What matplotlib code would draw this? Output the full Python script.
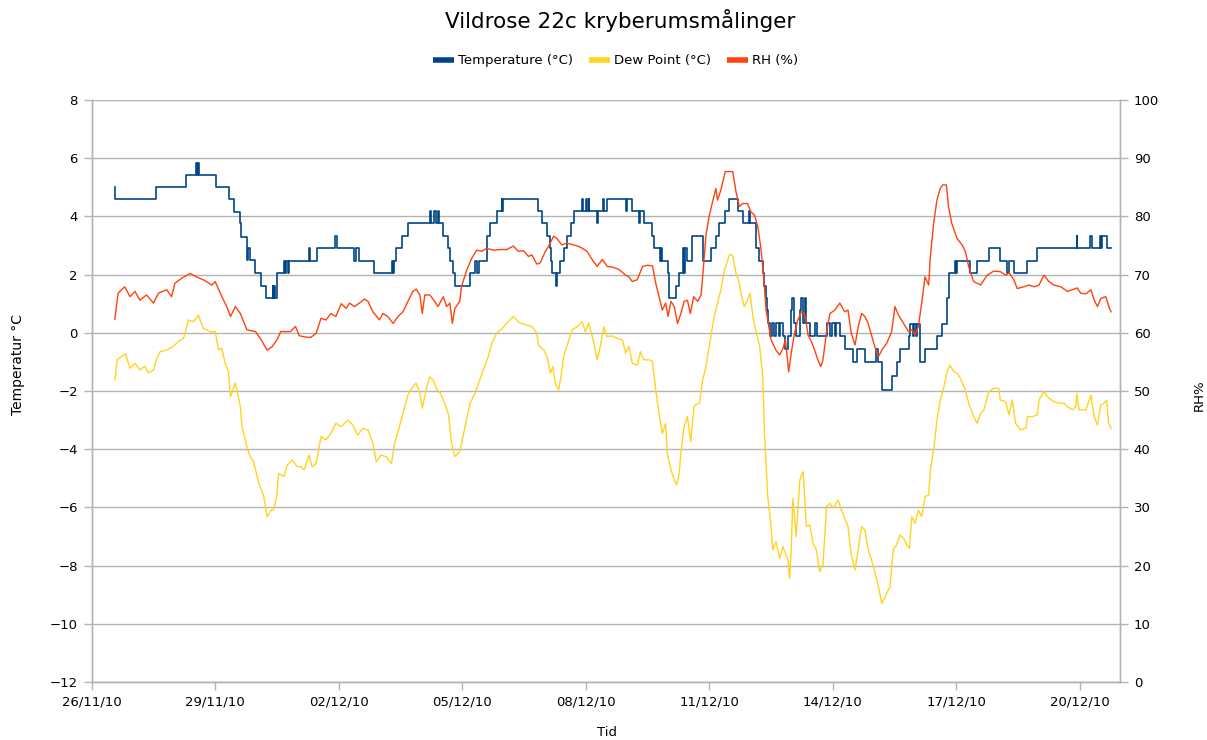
import numpy as np
import pandas as pd
import matplotlib
matplotlib.use("Agg")
import matplotlib.pyplot as plt
import matplotlib.dates as mdates
from matplotlib.lines import Line2D

# Measurements, as days since 26/11/10 00:00
start = pd.Timestamp("2010-11-26")

temp_days = [0.56, 0.57, 1.56, 2.28, 2.54, 2.56, 2.58, 2.61, 3.02, 3.33, 3.45, 3.59, 3.63, 3.76, 3.78, 3.80,
             3.85, 3.97, 4.10, 4.24, 4.40, 4.41, 4.43, 4.44, 4.50, 4.67, 4.70, 4.72, 4.76, 4.78, 5.28, 5.30,
             5.47, 5.91, 5.95, 6.38, 6.41, 6.49, 6.85, 7.30, 7.32, 7.34, 7.40, 7.54, 7.68, 8.21, 8.25, 8.31,
             8.37, 8.41, 8.44, 8.54, 8.66, 8.71, 8.78, 8.82, 9.19, 9.31, 9.35, 9.41, 9.59, 9.67, 9.84, 9.96,
             9.97, 9.99, 10.85, 10.93, 11.06, 11.14, 11.16, 11.19, 11.28, 11.31, 11.38, 11.46, 11.54, 11.63,
             11.71, 11.91, 11.93, 12.01, 12.03, 12.07, 12.09, 12.28, 12.30, 12.42, 12.45, 12.52, 12.97, 13.01,
             13.13, 13.29, 13.32, 13.41, 13.62, 13.66, 13.80, 13.82, 13.86, 13.99, 14.02, 14.19, 14.27, 14.35,
             14.39, 14.41, 14.47, 14.59, 14.84, 15.04, 15.16, 15.24, 15.37, 15.49, 15.69, 15.81, 15.97, 16.00,
             16.14, 16.22, 16.30, 16.33, 16.37, 16.40, 16.43, 16.48, 16.53, 16.58, 16.62, 16.69, 16.72, 16.79,
             16.85, 16.91, 16.99, 17.02, 17.07, 17.11, 17.20, 17.22, 17.28, 17.32, 17.36, 17.44, 17.58, 17.62,
             17.85, 17.93, 17.97, 18.05, 18.09, 18.17, 18.29, 18.50, 18.58, 18.78, 19.06, 19.11, 19.19, 19.43,
             19.55, 19.63, 19.84, 19.88, 19.95, 19.97, 20.02, 20.04, 20.12, 20.24, 20.53, 20.65, 20.77, 20.83,
             20.97, 20.99, 21.01, 21.34, 21.50, 21.79, 22.06, 22.23, 22.27, 22.40, 22.72, 22.97, 23.92, 23.93,
             24.26, 24.29, 24.50, 24.52, 24.53, 24.67, 24.76]
temp_vals = [5.00, 4.60, 5.00, 5.42, 5.82, 5.42, 5.82, 5.42, 5.00, 4.60, 4.16, 3.78, 3.30, 2.90, 2.50, 2.90,
             2.50, 2.04, 1.61, 1.21, 1.61, 1.21, 1.61, 1.21, 2.04, 2.47, 2.04, 2.47, 2.04, 2.47, 2.91, 2.48,
             2.91, 3.33, 2.91, 2.48, 2.91, 2.48, 2.04, 2.48, 2.04, 2.48, 2.91, 3.33, 3.78, 4.19, 3.78, 4.19,
             3.78, 4.19, 3.78, 3.33, 2.91, 2.48, 2.04, 1.61, 2.04, 2.48, 2.04, 2.48, 3.33, 3.78, 4.19, 4.59,
             4.19, 4.59, 4.19, 3.78, 3.33, 2.91, 2.48, 2.04, 1.61, 2.04, 2.48, 2.91, 3.33, 3.78,
             4.19, 4.59, 4.19, 4.59, 4.19, 4.59, 4.19, 3.78, 4.19, 4.59, 4.19, 4.59, 4.19, 4.59,
             4.19, 3.78, 4.19, 3.78, 3.33, 2.91, 2.48, 2.91, 2.48, 2.04, 1.21, 1.61, 2.04, 2.91,
             2.04, 2.91, 2.48, 3.33, 2.48, 2.91, 3.33, 3.78, 4.19, 4.59, 4.19, 3.78, 4.19, 3.78,
             2.91, 2.48, 2.04, 1.61, 1.21, 0.78, 0.34, -0.10, 0.34, -0.10, 0.34, -0.10, 0.34, -0.10,
             -0.57, -0.10, 0.78, 1.21, 0.34, -0.10, 0.78, 1.21, 0.34, 1.21, 0.34, -0.10, 0.34, -0.10,
             0.34, -0.10, 0.34, -0.10, 0.34, -0.10, -0.57, -1.00, -0.57, -1.00, -0.57, -1.00, -1.97, -1.49,
             -1.00, -0.57, -0.10, 0.30, -0.10, 0.30, -0.10, 0.30, -1.00, -0.57, -0.10, 0.30, 1.21, 2.04,
             2.47, 2.04, 2.47, 2.04, 2.47, 2.91, 2.47, 2.04, 2.47, 2.04, 2.47, 2.91, 3.33, 2.91,
             3.33, 2.91, 3.33, 2.91, 3.33, 2.91, 2.91]

dew_days = [0.56, 0.62, 0.72, 0.82, 0.93, 1.05, 1.17, 1.29, 1.37, 1.50, 1.58, 1.66, 1.82, 1.98, 2.10, 2.23,
            2.35, 2.47, 2.59, 2.71, 2.88, 3.00, 3.08, 3.16, 3.24, 3.32, 3.37, 3.49, 3.61, 3.65, 3.77, 3.85,
            3.93, 4.06, 4.18, 4.26, 4.36, 4.42, 4.49, 4.54, 4.67, 4.75, 4.87, 4.99, 5.08, 5.16, 5.28, 5.35,
            5.45, 5.57, 5.69, 5.81, 5.93, 6.06, 6.22, 6.34, 6.46, 6.59, 6.71, 6.83, 6.91, 7.03, 7.15, 7.28,
            7.36, 7.44, 7.56, 7.68, 7.80, 7.88, 7.97, 8.03, 8.13, 8.21, 8.29, 8.37, 8.47, 8.54, 8.66, 8.74,
            8.82, 8.94, 9.06, 9.19, 9.31, 9.41, 9.51, 9.63, 9.72, 9.84, 9.96, 10.08, 10.24, 10.40, 10.57,
            10.69, 10.81, 10.85, 10.98, 11.06, 11.14, 11.20, 11.26, 11.34, 11.40, 11.46, 11.54, 11.67, 11.79,
            11.91, 11.99, 12.07, 12.19, 12.28, 12.36, 12.44, 12.52, 12.64, 12.76, 12.89, 12.97, 13.05, 13.13,
            13.25, 13.33, 13.41, 13.54, 13.62, 13.70, 13.78, 13.86, 13.94, 13.98, 14.07, 14.15, 14.21, 14.27,
            14.31, 14.39, 14.47, 14.55, 14.63, 14.67, 14.76, 14.84, 14.92, 15.04, 15.12, 15.20, 15.28, 15.37,
            15.45, 15.50, 15.57, 15.65, 15.71, 15.77, 15.85, 15.93, 15.99, 16.06, 16.14, 16.22, 16.30, 16.34,
            16.42, 16.50, 16.54, 16.62, 16.71, 16.79, 16.91, 16.95, 16.99, 17.03, 17.11, 17.20, 17.28, 17.36,
            17.44, 17.52, 17.60, 17.68, 17.76, 17.85, 17.93, 18.01, 18.13, 18.21, 18.29, 18.37, 18.45, 18.54,
            18.62, 18.70, 18.78, 18.86, 18.94, 19.02, 19.11, 19.19, 19.27, 19.39, 19.47, 19.55, 19.63, 19.72,
            19.80, 19.86, 19.92, 20.00, 20.08, 20.16, 20.24, 20.33, 20.37, 20.45, 20.53, 20.61, 20.69, 20.78,
            20.84, 20.94, 21.02, 21.10, 21.22, 21.30, 21.42, 21.51, 21.59, 21.67, 21.79, 21.91, 22.03, 22.07,
            22.20, 22.28, 22.36, 22.44, 22.56, 22.69, 22.73, 22.85, 22.97, 23.01, 23.13, 23.25, 23.37, 23.50,
            23.62, 23.70, 23.82, 23.90, 23.93, 23.98, 24.15, 24.27, 24.35, 24.43, 24.51, 24.59, 24.65, 24.70,
            24.76]
dew_vals = [-1.62, -0.93, -0.82, -0.73, -1.22, -1.05, -1.28, -1.14, -1.37, -1.28, -0.88, -0.65, -0.59, -0.47, -0.30, -0.19,
            0.44, 0.38, 0.61, 0.15, 0.04, 0.04, -0.59, -0.53, -1.05, -1.33, -2.19, -1.73, -2.54, -3.22, -3.91, -4.26,
            -4.43, -5.17, -5.63, -6.32, -6.09, -6.09, -5.63, -4.83, -4.94, -4.54, -4.37, -4.60, -4.60, -4.71, -4.20, -4.60,
            -4.49, -3.57, -3.68, -3.45, -3.11, -3.22, -3.00, -3.17, -3.51, -3.28, -3.34, -3.79, -4.43, -4.20, -4.26, -4.49,
            -3.79, -3.40, -2.77, -2.14, -1.85, -1.73, -2.08, -2.59, -1.91, -1.51, -1.62, -1.91, -2.08, -2.31, -2.77, -3.79,
            -4.25, -4.08, -3.28, -2.42, -2.08, -1.68, -1.28, -0.82, -0.36, 0.00, 0.12, 0.33, 0.56, 0.33, 0.27,
            0.21, 0.00, -0.42, -0.59, -0.82, -1.39, -1.16, -1.74, -1.97, -1.51, -0.82, -0.47, 0.10, 0.21,
            0.38, 0.04, 0.33, -0.30, -0.93, -0.42, 0.21, -0.13, -0.11, -0.19, -0.25, -0.70, -0.47, -1.05,
            -1.11, -0.65, -0.93, -0.93, -0.99, -1.97, -2.77, -3.46, -3.11, -4.14, -4.71, -5.06, -5.23, -4.83,
            -4.14, -3.22, -2.88, -3.74, -2.54, -2.48, -2.42, -1.62, -1.15, -0.10, 0.56, 1.01, 1.47, 2.16,
            2.50, 2.70, 2.65, 2.04, 1.82, 1.36, 0.90, 1.13, 1.36, 0.56, 0.00, -0.42, -1.51, -3.45,
            -5.63, -6.66, -7.46, -7.18, -7.75, -7.35, -7.81, -8.44, -7.46, -5.69, -7.00, -5.06, -4.77, -6.66,
            -6.60, -7.23, -7.46, -8.21, -7.98, -5.97, -5.86, -6.03, -5.75, -6.09, -6.38, -6.66, -7.64, -8.15,
            -7.40, -6.66, -6.78, -7.46, -7.81, -8.21, -8.72, -9.30, -9.07, -8.72, -7.45, -7.29, -6.95, -7.06,
            -7.29, -7.41, -6.32, -6.55, -6.09, -6.32, -5.63, -5.57, -4.71, -4.03, -3.00, -2.31, -1.91, -1.33,
            -1.11, -1.33, -1.39, -1.56, -1.97, -2.42, -2.88, -3.11, -2.77, -2.65, -2.02, -1.91, -1.91, -2.31,
            -2.37, -2.82, -2.31, -3.11, -3.34, -3.28, -2.88, -2.88, -2.82, -2.31, -2.02, -2.25, -2.37, -2.42,
            -2.42, -2.54, -2.65, -2.54, -2.08, -2.65, -2.65, -2.14, -2.88, -3.17, -2.48, -2.42, -2.31, -3.11,
            -3.28]

rh_days = [0.56, 0.64, 0.80, 0.93, 1.05, 1.17, 1.33, 1.50, 1.62, 1.82, 1.94, 2.02, 2.19, 2.39, 2.55, 2.71,
           2.92, 3.00, 3.16, 3.28, 3.37, 3.49, 3.61, 3.69, 3.77, 3.98, 4.14, 4.26, 4.38, 4.50, 4.59, 4.83,
           4.95, 5.04, 5.16, 5.32, 5.45, 5.57, 5.69, 5.81, 5.93, 6.06, 6.18, 6.26, 6.38, 6.50, 6.63, 6.71,
           6.83, 6.99, 7.07, 7.19, 7.32, 7.44, 7.56, 7.68, 7.80, 7.88, 7.97, 8.03, 8.09, 8.21, 8.33, 8.41,
           8.54, 8.62, 8.70, 8.76, 8.82, 8.94, 8.98, 9.11, 9.23, 9.35, 9.47, 9.59, 9.76, 9.92, 10.08, 10.24,
           10.36, 10.49, 10.61, 10.69, 10.81, 10.89, 11.02, 11.10, 11.22, 11.30, 11.42, 11.54, 11.71, 11.87,
           12.03, 12.19, 12.28, 12.40, 12.52, 12.64, 12.80, 12.97, 13.05, 13.13, 13.25, 13.38, 13.50, 13.62,
           13.70, 13.78, 13.86, 13.94, 14.00, 14.07, 14.15, 14.23, 14.31, 14.39, 14.47, 14.54, 14.62, 14.72,
           14.80, 14.84, 14.92, 15.00, 15.08, 15.16, 15.20, 15.28, 15.39, 15.57, 15.65, 15.73, 15.81, 15.93,
           16.01, 16.10, 16.18, 16.26, 16.32, 16.38, 16.50, 16.62, 16.71, 16.79, 16.85, 16.93, 16.99, 17.07,
           17.15, 17.24, 17.32, 17.40, 17.48, 17.56, 17.64, 17.71, 17.76, 17.85, 17.93, 18.05, 18.17, 18.29,
           18.37, 18.45, 18.54, 18.62, 18.70, 18.78, 18.86, 18.94, 19.02, 19.11, 19.19, 19.31, 19.43, 19.51,
           19.59, 19.72, 19.84, 19.92, 20.00, 20.08, 20.16, 20.24, 20.33, 20.37, 20.45, 20.53, 20.61, 20.67,
           20.76, 20.81, 20.89, 21.02, 21.14, 21.22, 21.30, 21.42, 21.59, 21.75, 21.91, 22.07, 22.20, 22.28,
           22.40, 22.48, 22.64, 22.76, 22.89, 23.01, 23.13, 23.25, 23.37, 23.54, 23.70, 23.82, 23.94, 24.02,
           24.15, 24.27, 24.35, 24.43, 24.51, 24.63, 24.72, 24.76]
rh_vals = [62.3, 66.8, 67.9, 66.2, 67.1, 65.6, 66.5, 65.1, 66.8, 67.4, 66.2, 68.5, 69.4, 70.2, 69.6, 69.1,
           68.2, 68.8, 66.2, 64.5, 62.8, 64.5, 63.3, 61.9, 60.5, 60.2, 58.5, 57.0, 57.6, 58.8, 60.2, 60.2,
           61.1, 59.5, 59.3, 59.2, 59.9, 62.5, 62.2, 63.3, 62.8, 65.0, 64.2, 65.1, 64.5, 65.1, 65.8, 65.4,
           63.6, 62.2, 63.3, 62.8, 61.6, 62.8, 63.6, 65.4, 67.1, 67.5, 66.5, 63.3, 66.5, 66.5, 65.4, 64.5,
           66.2, 64.5, 65.1, 61.6, 64.2, 65.4, 67.9, 70.8, 72.8, 74.2, 74.0, 74.5, 74.2, 74.3, 74.3, 74.9,
           74.0, 74.1, 73.1, 73.4, 71.8, 72.0, 74.0, 74.9, 76.6, 76.2, 75.1, 75.4, 75.1, 74.7,
           74.0, 72.2, 71.4, 72.6, 71.4, 71.3, 70.9, 69.9, 69.6, 68.8, 69.1, 71.4, 71.6, 71.5,
           68.5, 66.2, 63.9, 65.1, 62.8, 65.4, 64.5, 61.6, 63.3, 65.4, 65.6, 63.3, 66.2, 65.4,
           66.5, 69.6, 76.8, 80.1, 82.5, 84.8, 82.8, 84.5, 87.7, 87.7, 84.2, 81.7, 82.2, 82.2,
           80.8, 80.2, 78.2, 74.2, 69.6, 63.9, 58.8, 57.0, 56.2, 57.3, 58.8, 53.3, 56.5, 59.9,
           62.2, 63.6, 63.3, 59.6, 58.5, 57.0, 55.3, 54.2, 55.3, 60.2, 63.3, 63.9, 65.1, 63.6,
           63.9, 59.9, 57.9, 61.1, 63.3, 62.8, 61.6, 59.6, 57.6, 55.9, 57.0, 58.2, 60.2, 64.5,
           63.1, 61.6, 60.2, 60.5, 59.6, 61.1, 65.1, 69.6, 68.2, 73.1, 78.8, 82.8, 84.8, 85.4,
           85.4, 81.7, 78.8, 76.2, 75.1, 74.0, 71.4, 68.8, 68.2, 69.9, 70.6, 70.5, 69.9, 70.3,
           69.1, 67.6, 67.9, 68.2, 67.9, 68.2, 69.9, 68.8, 68.2, 67.9, 67.1, 67.4, 67.7, 66.8,
           66.7, 67.4, 65.6, 64.5, 65.9, 66.2, 64.2, 63.6]

series_labels = ["Temperature (°C)", "Dew Point (°C)", "RH (%)"]
series_colors = ["#004586", "#ffd320", "#ff420e"]

temp_ticks = np.arange(-12, 9, 2)
rh_ticks = np.arange(0, 101, 10)


def to_time(days):
    return start + pd.to_timedelta(np.asarray(days, dtype=float), unit="D")


plt.rcParams["font.family"] = ["DejaVu Sans"]
fig = plt.figure(figsize=(12.07, 7.40), dpi=100)
ax = fig.add_axes([0.0760, 0.0784, 0.8519, 0.7865])
ax2 = ax.twinx()

grid_c = "#b3b3b3"

ax.plot(to_time(temp_days), temp_vals, color=series_colors[0], lw=1.2, drawstyle="steps-post")
ax.plot(to_time(dew_days), dew_vals, color=series_colors[1], lw=1.0)
ax2.plot(to_time(rh_days), rh_vals, color=series_colors[2], lw=1.0)

ax.set_xlim(start, start + pd.Timedelta(days=24.976))
ax.set_ylim(-12, 8)
ax2.set_ylim(0, 100)
ax.set_yticks(temp_ticks)
ax2.set_yticks(rh_ticks)

ax.xaxis.set_major_locator(mdates.DayLocator(bymonthday=[26, 29, 2, 5, 8, 11, 14, 17, 20]))
ax.xaxis.set_major_formatter(mdates.DateFormatter("%d/%m/%y"))

ax.set_axisbelow(True)
ax.grid(axis="y", color=grid_c, lw=1.0)
ax.grid(axis="x", visible=False)

for a in (ax, ax2):
    a.spines["top"].set_visible(False)
    for s in ("left", "right", "bottom"):
        a.spines[s].set_color(grid_c)
        a.spines[s].set_linewidth(1.0)
    a.tick_params(length=6, width=1.0, color=grid_c, labelsize=9.5, labelcolor="#000000", pad=4)

fig.text(0.5137, 0.972, "Vildrose 22c kryberumsmålinger", ha="center", va="center", fontsize=15.5)
fig.text(0.0149, 0.507, "Temperatur °C", rotation=90, ha="center", va="center", fontsize=10)
fig.text(0.9935, 0.466, "RH%", rotation=90, ha="center", va="center", fontsize=9.5)
fig.text(0.503, 0.0095, "Tid", ha="center", va="center", fontsize=9.5)

handles = [Line2D([], [], color=c, lw=4, solid_capstyle="butt") for c in series_colors]
fig.legend(handles, series_labels, loc="center", bbox_to_anchor=(0.51, 0.9176), ncol=3,
           frameon=False, fontsize=9.5, handlelength=1.6, handletextpad=0.3, columnspacing=1.2)

fig.savefig("out.png", dpi=100)
